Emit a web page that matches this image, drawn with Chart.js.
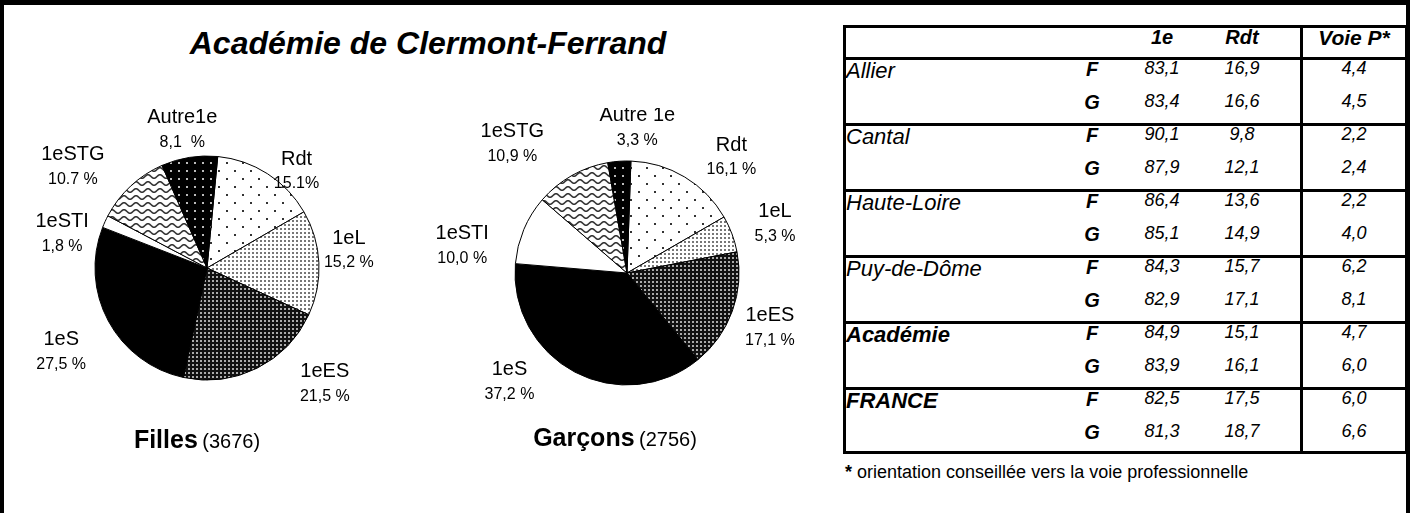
<!DOCTYPE html>
<html lang="fr">
<head>
<meta charset="utf-8">
<title>Académie de Clermont-Ferrand</title>
<script src="https://cdn.jsdelivr.net/npm/chart.js@4.4.1/dist/chart.umd.min.js"></script>
<style>
    body { margin: 0; background: #fff; font-family: "Liberation Sans", Arial, sans-serif; }
    #page { position: relative; width: 1412px; height: 513px; overflow: hidden; background: #fff; }
    #frame { position: absolute; left: 0; top: 0; width: 1410px; height: 513px; box-sizing: border-box;
             border-top: 5px solid #000; border-left: 4px solid #000; border-right: 4px solid #000; }
    .abs { position: absolute; white-space: nowrap; color: #000; }
    canvas { position: absolute; }
    .line { position: absolute; background: #000; }
    .cell { position: absolute; text-align: center; }
</style>
</head>
<body>
<div id="page">
    <div id="frame"></div>
    <div class="abs" style="left:0; width:856px; top:25px; text-align:center; font: italic bold 32px 'Liberation Sans', Arial, sans-serif;">Académie de Clermont-Ferrand</div>

    <canvas id="fillesChart" width="400" height="330" style="left:7px; top:103px;"></canvas>
    <canvas id="garconsChart" width="400" height="330" style="left:427px; top:108px;"></canvas>

    <div class="abs" style="left:0; width:394px; top:425px; text-align:center;">
        <span style="font: bold 25px 'Liberation Sans', Arial, sans-serif;">Filles</span>
        <span style="font: 20px 'Liberation Sans', Arial, sans-serif;">(3676)</span>
    </div>
    <div class="abs" style="left:415px; width:400px; top:423px; text-align:center;">
        <span style="font: bold 25px 'Liberation Sans', Arial, sans-serif;">Garçons</span>
        <span style="font: 20px 'Liberation Sans', Arial, sans-serif;">(2756)</span>
    </div>

    <div class="abs" style="left:845px; top:462px; font: 18px 'Liberation Sans', Arial, sans-serif;"><b>*</b> orientation conseillée vers la voie professionnelle</div>
</div>

<script>
// Secteurs (ordre des aiguilles d'une montre, depuis midi)
const categories = ['Rdt', '1eL', '1eES', '1eS', '1eSTI', '1eSTG', 'Autre1e'];
const fillesValues = [15.1, 15.2, 21.5, 27.5, 1.8, 10.7, 8.1];
const garconsValues = [16.1, 5.3, 17.1, 37.2, 10.0, 10.9, 3.3];
const fillesNames = ['Rdt', '1eL', '1eES', '1eS', '1eSTI', '1eSTG', 'Autre1e'];
const garconsNames = ['Rdt', '1eL', '1eES', '1eS', '1eSTI', '1eSTG', 'Autre 1e'];
const fillesPctText = ['15.1%', '15,2 %', '21,5 %', '27,5 %', '1,8 %', '10.7 %', '8,1  %'];
const garconsPctText = ['16,1 %', '5,3 %', '17,1 %', '37,2 %', '10,0 %', '10,9 %', '3,3 %'];

// Tableau par département
const regions = ['Allier', 'Cantal', 'Haute-Loire', 'Puy-de-Dôme', 'Académie', 'FRANCE'];
const sexes = ['F', 'G'];
const premiereF = [83.1, 90.1, 86.4, 84.3, 84.9, 82.5];
const premiereG = [83.4, 87.9, 85.1, 82.9, 83.9, 81.3];
const redoubF = [16.9, 9.8, 13.6, 15.7, 15.1, 17.5];
const redoubG = [16.6, 12.1, 14.9, 17.1, 16.1, 18.7];
const voiePF = [4.4, 2.2, 2.2, 6.2, 4.7, 6.0];
const voiePG = [4.5, 2.4, 4.0, 8.1, 6.0, 6.6];

// placement des étiquettes (décalage d'angle en degrés, distance au centre)
const fillesLabelFix = [10, -4.5, -19, -1.5, -11, -10, -1];
const fillesLabelDist = [132, 143, 165, 168, 149, 168, 141];
const garconsLabelFix = [11, 2, 1, 19.5, -13.5, -12, 8];
const garconsLabelDist = [156, 156, 153, 160, 167, 173, 146];

const FONT = '"Liberation Sans", Arial, sans-serif';

function makePattern(w, h, draw) {
    const c = document.createElement('canvas');
    c.width = w;
    c.height = h;
    const g = c.getContext('2d');
    draw(g, w, h);
    return g.createPattern(c, 'repeat');
}

function buildPatterns() {
    const rdt = makePattern(16, 16, (g) => {
        g.fillStyle = '#fff'; g.fillRect(0, 0, 16, 16);
        g.fillStyle = '#333';
        g.fillRect(3, 3, 2, 2);
        g.fillRect(11, 11, 2, 2);
    });
    const premL = makePattern(4, 4, (g) => {
        g.fillStyle = '#fff'; g.fillRect(0, 0, 4, 4);
        g.fillStyle = '#777'; g.fillRect(1, 1, 2, 2);
    });
    const premES = makePattern(4, 4, (g) => {
        g.fillStyle = '#111'; g.fillRect(0, 0, 4, 4);
        g.fillStyle = '#aaa'; g.fillRect(1, 1, 2, 2);
    });
    const wave = makePattern(12, 7, (g) => {
        g.fillStyle = '#fff'; g.fillRect(0, 0, 12, 7);
        g.strokeStyle = '#333';
        g.lineWidth = 1.6;
        g.beginPath();
        for (let x = -1; x <= 13; x += 0.5) {
            const y = 3.5 + 1.8 * Math.sin(x / 12 * Math.PI * 2);
            if (x === -1) g.moveTo(x, y); else g.lineTo(x, y);
        }
        g.stroke();
    });
    const autre = makePattern(8, 8, (g) => {
        g.fillStyle = '#000'; g.fillRect(0, 0, 8, 8);
        g.fillStyle = '#bbb'; g.fillRect(3, 3, 2, 2);
    });
    return [rdt, premL, premES, '#000', '#fff', wave, autre];
}

const sliceLabels = {
    id: 'sliceLabels',
    afterDatasetsDraw(chart, args, opts) {
        const ctx = chart.ctx;
        const meta = chart.getDatasetMeta(0);
        meta.data.forEach((arc, i) => {
            const p = arc.getProps(['x', 'y', 'startAngle', 'endAngle'], true);
            const mid = (p.startAngle + p.endAngle) / 2 + opts.angleFix[i] * Math.PI / 180;
            const lx = p.x + Math.cos(mid) * opts.dist[i];
            const ly = p.y + Math.sin(mid) * opts.dist[i];
            ctx.save();
            ctx.fillStyle = '#000';
            ctx.textAlign = 'center';
            ctx.textBaseline = 'middle';
            ctx.font = '20px ' + FONT;
            ctx.fillText(opts.names[i], lx, ly - 12);
            ctx.font = '16px ' + FONT;
            ctx.fillText(opts.pcts[i], lx, ly + 13);
            ctx.restore();
        });
    }
};

function createPie(canvasId, values, names, pcts, rotation, angleFix, dist) {
    const ctx = document.getElementById(canvasId);
    return new Chart(ctx, {
        type: 'pie',
        data: {
            labels: categories,
            datasets: [{
                data: values,
                backgroundColor: buildPatterns(),
                borderColor: '#000',
                borderWidth: 1
            }]
        },
        options: {
            responsive: false,
            animation: false,
            radius: 112,
            rotation: rotation,
            layout: { padding: 0 },
            plugins: {
                legend: { display: false },
                tooltip: { enabled: false },
                sliceLabels: { names: names, pcts: pcts, angleFix: angleFix, dist: dist }
            }
        },
        plugins: [sliceLabels]
    });
}

function fmt(v) {
    return v.toFixed(1).replace('.', ',');
}

function addDiv(parent, cls, style, html) {
    const d = document.createElement('div');
    d.className = cls;
    d.style.cssText = style;
    if (html !== undefined) d.innerHTML = html;
    parent.appendChild(d);
}

function createTable() {
    const page = document.getElementById('page');
    const left = 843, right = 1408, top = 25, headH = 33, rowH = 33;
    const bottom = top + headH + rowH * 12;
    const lw = 3;

    // traits du tableau
    addDiv(page, 'line', `left:${left}px; top:${top}px; width:${right - left}px; height:${lw}px;`);
    addDiv(page, 'line', `left:${left}px; top:${bottom - lw}px; width:${right - left}px; height:${lw}px;`);
    addDiv(page, 'line', `left:${left}px; top:${top}px; width:${lw}px; height:${bottom - top}px;`);
    addDiv(page, 'line', `left:${right - lw}px; top:${top}px; width:${lw}px; height:${bottom - top}px;`);
    addDiv(page, 'line', `left:1300px; top:${top}px; width:${lw}px; height:${bottom - top}px;`);
    for (let k = 0; k < regions.length; k++) {
        const y = top + headH + k * rowH * 2 - 1;
        addDiv(page, 'line', `left:${left}px; top:${y}px; width:${right - left}px; height:${lw}px;`);
    }

    const colFG = 1092, col1e = 1162, colRdt = 1242, colVoie = 1354;
    const cellStyle = (cx, y, w, font) =>
        `left:${cx - w / 2}px; top:${y}px; width:${w}px; height:${rowH}px; line-height:${rowH}px; font:${font};`;

    const headFont = `italic bold 20px ${FONT}`;
    const hy = top + 1;
    addDiv(page, 'cell', cellStyle(col1e, hy, 60, headFont), '1e');
    addDiv(page, 'cell', cellStyle(colRdt, hy, 60, headFont), 'Rdt');
    addDiv(page, 'cell', cellStyle(colVoie, hy, 100, `italic bold 21px ${FONT}`), 'Voie P*');

    const valFont = `italic 18px ${FONT}`;
    const fgFont = `italic bold 20px ${FONT}`;
    regions.forEach((reg, k) => {
        const bold = k >= 4;
        const y0 = top + headH + k * rowH * 2;
        addDiv(page, 'abs', `left:846px; top:${y0}px; height:${rowH}px; line-height:${rowH}px; font:italic ${bold ? 'bold ' : ''}22px ${FONT};`, reg);
        const rows = [
            [premiereF[k], redoubF[k], voiePF[k]],
            [premiereG[k], redoubG[k], voiePG[k]]
        ];
        rows.forEach((vals, j) => {
            const y = y0 + j * rowH;
            addDiv(page, 'cell', cellStyle(colFG, y, 30, fgFont), sexes[j]);
            addDiv(page, 'cell', cellStyle(col1e, y, 60, valFont), fmt(vals[0]));
            addDiv(page, 'cell', cellStyle(colRdt, y, 60, valFont), fmt(vals[1]));
            addDiv(page, 'cell', cellStyle(colVoie, y, 60, valFont), fmt(vals[2]));
        });
    });
}

document.addEventListener('DOMContentLoaded', () => {
    createPie('fillesChart', fillesValues, fillesNames, fillesPctText, 5.5, fillesLabelFix, fillesLabelDist);
    createPie('garconsChart', garconsValues, garconsNames, garconsPctText, 2, garconsLabelFix, garconsLabelDist);
    createTable();
});
</script>
</body>
</html>
